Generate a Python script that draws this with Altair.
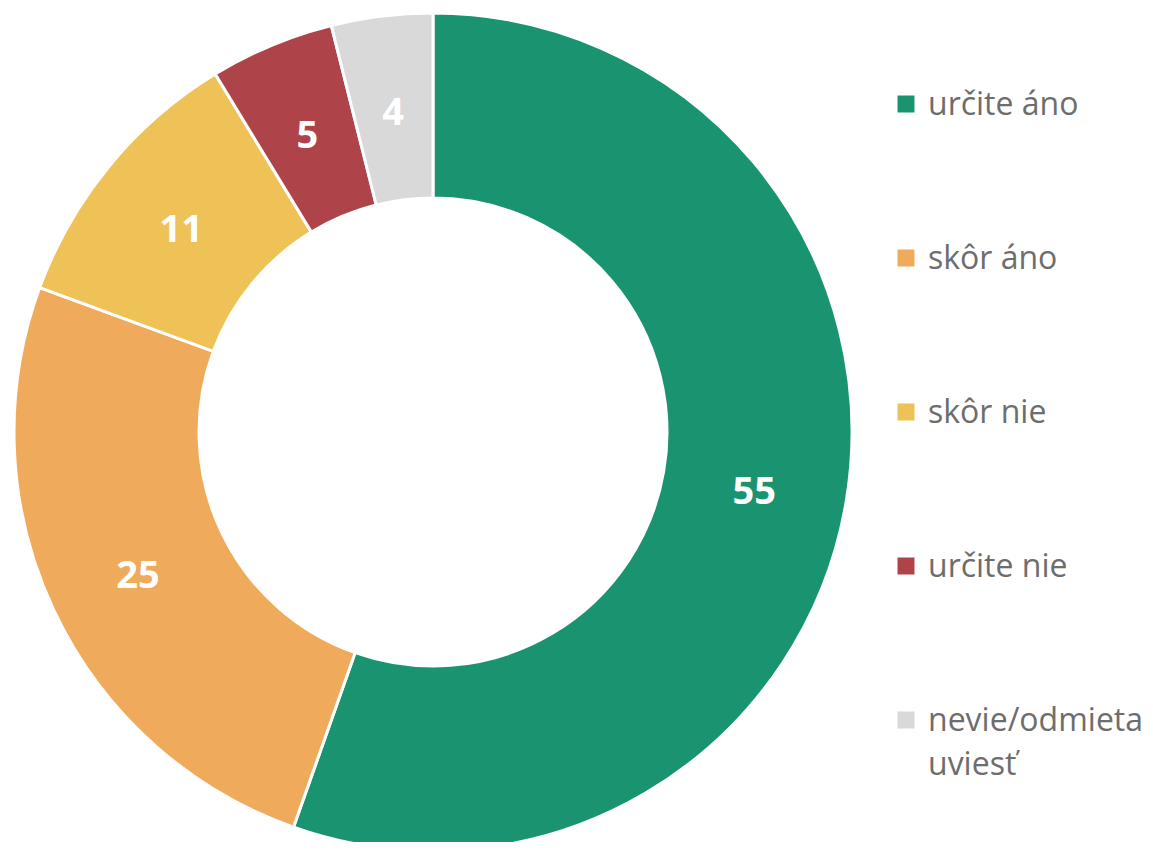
import altair as alt
import pandas as pd

categories = ["určite áno", "skôr áno", "skôr nie", "určite nie", "nevie/odmieta uviesť"]
legend_lines = [["určite áno"], ["skôr áno"], ["skôr nie"], ["určite nie"], ["nevie/odmieta", "uviesť"]]
values = [55.4, 25.2, 10.7, 4.8, 3.9]
colors = ["#1a9370", "#f0aa5c", "#eec257", "#af434a", "#d9d9d9"]

df = pd.DataFrame({"cat": categories, "val": values, "ord": list(range(len(values))), "lines": legend_lines})

cx, cy = 425, 424
color_scale = alt.Scale(domain=categories, range=colors)

base = alt.Chart(df).encode(
    theta=alt.Theta("val:Q", stack=True),
    order=alt.Order("ord:Q"),
)

arcs = base.mark_arc(innerRadius=234, outerRadius=419, stroke="white", strokeWidth=3).encode(
    x=alt.value(cx),
    y=alt.value(cy),
    color=alt.Color("cat:N", scale=color_scale, legend=None),
)

labels = base.mark_text(
    radius=326, dy=6, font="Open Sans", fontWeight="bold", fontSize=38, color="white"
).encode(
    x=alt.value(cx),
    y=alt.value(cy),
    text=alt.Text("val:Q", format=".0f"),
)

legend_y = alt.Y(
    "cat:N",
    scale=alt.Scale(type="point", domain=categories, range=[96, 712], padding=0),
    axis=None,
)

legend_sym = alt.Chart(df).mark_square(size=289, opacity=1).encode(
    x=alt.value(898),
    y=legend_y,
    color=alt.Color("cat:N", scale=color_scale, legend=None),
)

legend_txt = alt.Chart(df).mark_text(
    align="left", baseline="alphabetic", dy=11, fontSize=32, font="Open Sans",
    color="#6d6d6d", lineHeight=44,
).encode(
    x=alt.value(920),
    y=legend_y,
    text="lines",
)

chart = (
    alt.layer(arcs, labels, legend_sym, legend_txt)
    .properties(width=1137, height=834, padding=0, autosize=alt.AutoSizeParams(type="none"))
    .configure_view(stroke=None)
)

chart.save("out.html", embed_options={"renderer": "svg", "actions": False})
